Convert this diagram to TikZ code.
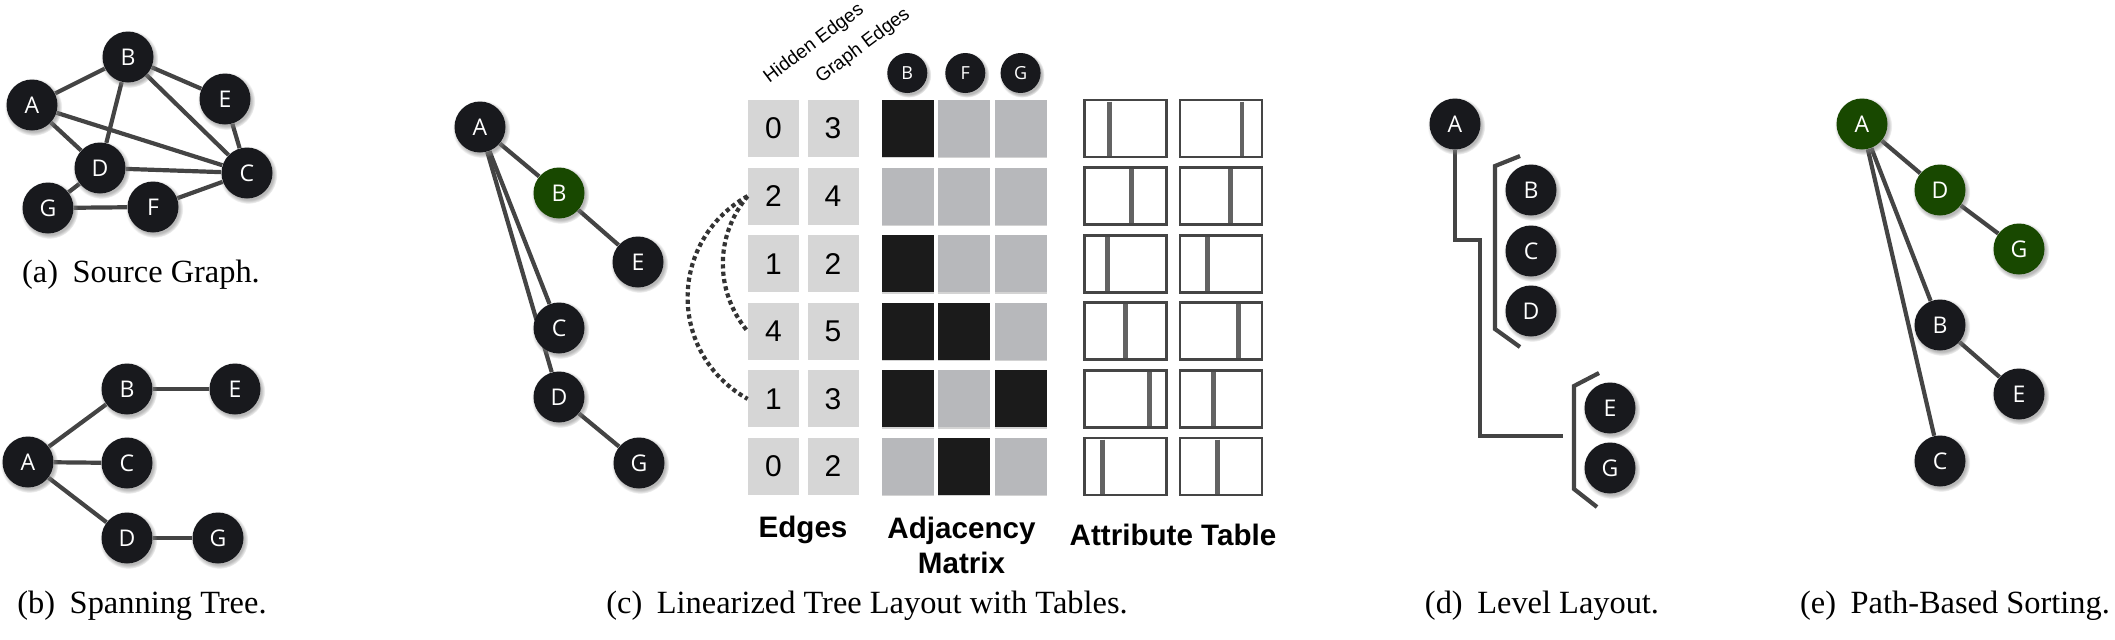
\documentclass[tikz,border=0pt]{standalone}
\usepackage{fontspec}
\setmainfont{Liberation Serif}
\newfontfamily\nodefont{Open Sans}
\newfontfamily\helv{Liberation Sans}
\usetikzlibrary{shadows,backgrounds}
\definecolor{nodefill}{HTML}{18191D}
\definecolor{nodegreen}{HTML}{184800}
\definecolor{edgecol}{HTML}{444444}
\definecolor{cellgray}{HTML}{D6D6D6}
\definecolor{adjgray}{HTML}{B7B8BB}
\definecolor{adjblack}{HTML}{1B1B1B}
\definecolor{boxline}{HTML}{454545}
\definecolor{barcol}{HTML}{636363}
\definecolor{dotcol}{HTML}{333333}
\begin{document}
\begin{tikzpicture}[x=0.5pt,y=-0.5pt,
  gnode/.style={circle, fill=nodefill, minimum size=25.5pt, inner sep=0pt, text=white,
    font=\nodefont\fontsize{11.5pt}{11.5pt}\selectfont,
    circular drop shadow={shadow xshift=0.6pt, shadow yshift=-0.9pt, shadow scale=1.13, opacity=0.55}},
  gnodeg/.style={gnode, fill=nodegreen},
  mininode/.style={gnode, minimum size=20pt, font=\nodefont\fontsize{9pt}{9pt}\selectfont},
  gedge/.style={draw=edgecol, line width=2.1pt},
  lline/.style={draw=edgecol, line width=2.1pt, line join=miter},
  ecell/.style={rectangle, fill=cellgray, minimum width=25.5pt, minimum height=28.5pt, inner sep=0pt,
    font=\helv\fontsize{15pt}{15pt}\selectfont},
  adjcell/.style={rectangle, minimum width=26pt, minimum height=28.5pt, inner sep=0pt,
    drop shadow={shadow xshift=0pt, shadow yshift=-0.7pt, opacity=0.35}},
  attrbox/.style={rectangle, draw=boxline, line width=1.4pt, fill=white, minimum width=41pt, minimum height=28.5pt, inner sep=0pt},
  attrbar/.style={draw=barcol, line width=2.3pt},
  dotarc/.style={draw=dotcol, line width=2.1pt, dash pattern=on 2.1pt off 1.6pt},
  boldlab/.style={font=\helv\bfseries\fontsize{14.8pt}{17.5pt}\selectfont, align=center, inner sep=0pt},
  headlab/.style={font=\helv\fontsize{9.5pt}{9.5pt}\selectfont, rotate=37, anchor=base west, inner sep=0pt},
  caption/.style={font=\fontsize{16.2pt}{19pt}\selectfont, anchor=base, inner sep=0pt}
]
\useasboundingbox (0,0) rectangle (2115,639);

% ---------- (a) Source Graph ----------
\node[gnode] (aA) at (32,105) {A};
\node[gnode] (aB) at (128,57) {B};
\node[gnode] (aE) at (225,99) {E};
\node[gnode] (aD) at (100,168) {D};
\node[gnode] (aC) at (247,173) {C};
\node[gnode] (aG) at (48,208) {G};
\node[gnode] (aF) at (153,207) {F};
\begin{scope}[on background layer]
\draw[gedge] (aA) -- (aB);
\draw[gedge] (aA) -- (aD);
\draw[gedge] (aA) -- (aC);
\draw[gedge] (aB) -- (aD);
\draw[gedge] (aB) -- (aC);
\draw[gedge] (aB) -- (aE);
\draw[gedge] (aE) -- (aC);
\draw[gedge] (aD) -- (aC);
\draw[gedge] (aD) -- (aG);
\draw[gedge] (aG) -- (aF);
\draw[gedge] (aF) -- (aC);
\end{scope}
\node[caption] (capa) at (141,282) {(a)\hskip0.45em Source Graph.};

% ---------- (b) Spanning Tree ----------
\node[gnode] (bA) at (28,462) {A};
\node[gnode] (bB) at (127,389) {B};
\node[gnode] (bE) at (235,389) {E};
\node[gnode] (bC) at (127,463) {C};
\node[gnode] (bD) at (127,538) {D};
\node[gnode] (bG) at (218,538) {G};
\begin{scope}[on background layer]
\draw[gedge] (bA) -- (bB);
\draw[gedge] (bB) -- (bE);
\draw[gedge] (bA) -- (bC);
\draw[gedge] (bA) -- (bD);
\draw[gedge] (bD) -- (bG);
\end{scope}
\node[caption] (capb) at (142,613) {(b)\hskip0.45em Spanning Tree.};

% ---------- (c) Linearized tree with tables ----------
\node[gnode] (cA) at (480,127) {A};
\node[gnodeg] (cB) at (559,193) {B};
\node[gnode] (cE) at (638,262) {E};
\node[gnode] (cC) at (559,328) {C};
\node[gnode] (cD) at (559,397) {D};
\node[gnode] (cG) at (639,463) {G};
\begin{scope}[on background layer]
\draw[gedge] (cA) -- (cB);
\draw[gedge] (cB) -- (cE);
\draw[gedge] (cA) -- (cC);
\draw[gedge] (cA) -- (cD);
\draw[gedge] (cD) -- (cG);
\end{scope}

\node[headlab] (hhead) at (769,84) {Hidden Edges};
\node[headlab] (ghead) at (821,84) {Graph Edges};

\foreach \r/\y/\hv/\gv in {1/128.5/0/3, 2/196.1/2/4, 3/263.7/1/2, 4/331.3/4/5, 5/398.9/1/3, 6/466.5/0/2} {
  \node[ecell] (h\r) at (773.5,\y) {\hv};
  \node[ecell] (g\r) at (833,\y) {\gv};
}

\node[mininode] (mB) at (907.3,73) {B};
\node[mininode] (mF) at (965.3,73) {F};
\node[mininode] (mG) at (1020.6,73) {G};

\foreach \r/\y/\ca/\cb/\cc in {1/128.5/adjblack/adjgray/adjgray, 2/196.1/adjgray/adjgray/adjgray, 3/263.7/adjblack/adjgray/adjgray, 4/331.3/adjblack/adjblack/adjgray, 5/398.9/adjblack/adjgray/adjblack, 6/466.5/adjgray/adjblack/adjgray} {
  \node[adjcell, fill=\ca] (ma\r) at (908.2,\y) {};
  \node[adjcell, fill=\cb] (mb\r) at (964.3,\y) {};
  \node[adjcell, fill=\cc] (mc\r) at (1021.2,\y) {};
}

\foreach \r/\y/\ba/\bb in {1/128.5/1109.5/1242, 2/196.1/1131.3/1230.5, 3/263.7/1107.6/1207.6, 4/331.3/1125.6/1238.2, 5/398.9/1149.2/1213.4, 6/466.5/1102.7/1217.2} {
  \node[attrbox] (ta\r) at (1125.5,\y) {};
  \node[attrbox] (tb\r) at (1221,\y) {};
  \draw[attrbar] (\ba,\y-27) -- (\ba,\y+27);
  \draw[attrbar] (\bb,\y-27) -- (\bb,\y+27);
}

\draw[dotarc] (h2.west) .. controls +(-80,45) and +(-80,-45) .. (h5.west);
\draw[dotarc] (h2.west) .. controls +(-33,40) and +(-33,-40) .. (h4.west);

\node[boldlab] (ledges) at (803,530) {Edges};
\node[boldlab] (ladj) at (961.5,545) {Adjacency\\Matrix};
\node[boldlab] (lattr) at (1173,535) {Attribute Table};
\node[caption] (capc) at (867,613) {(c)\hskip0.45em Linearized Tree Layout with Tables.};

% ---------- (d) Level Layout ----------
\node[gnode] (dA) at (1455,124) {A};
\node[gnode] (dB) at (1531,190) {B};
\node[gnode] (dC) at (1531,251) {C};
\node[gnode] (dD) at (1531,311) {D};
\node[gnode] (dE) at (1610,408) {E};
\node[gnode] (dG) at (1610,468) {G};
\coordinate (dend) at (1563,436);
\begin{scope}[on background layer]
\draw[lline] (dA.south) -- (1455,240) -- (1480,240) -- (1480,436) -- (dend);
\end{scope}
\draw[lline] (1520,156) -- (1495,166) -- (1495,329) -- (1520,347);
\draw[lline] (1599,373) -- (1574,386) -- (1574,489) -- (1597,507);
\node[caption] (capd) at (1542,613) {(d)\hskip0.45em Level Layout.};

% ---------- (e) Path-Based Sorting ----------
\node[gnodeg] (eA) at (1862,124) {A};
\node[gnodeg] (eD) at (1940,190) {D};
\node[gnodeg] (eG) at (2019,249) {G};
\node[gnode] (eB) at (1940,325) {B};
\node[gnode] (eE) at (2019,394) {E};
\node[gnode] (eC) at (1940,461) {C};
\begin{scope}[on background layer]
\draw[gedge] (eA) -- (eD);
\draw[gedge] (eD) -- (eG);
\draw[gedge] (eA) -- (eB);
\draw[gedge] (eB) -- (eE);
\draw[gedge] (eA) -- (eC);
\end{scope}
\node[caption] (cape) at (1955,613) {(e)\hskip0.45em Path-Based Sorting.};
\end{tikzpicture}
\end{document}
